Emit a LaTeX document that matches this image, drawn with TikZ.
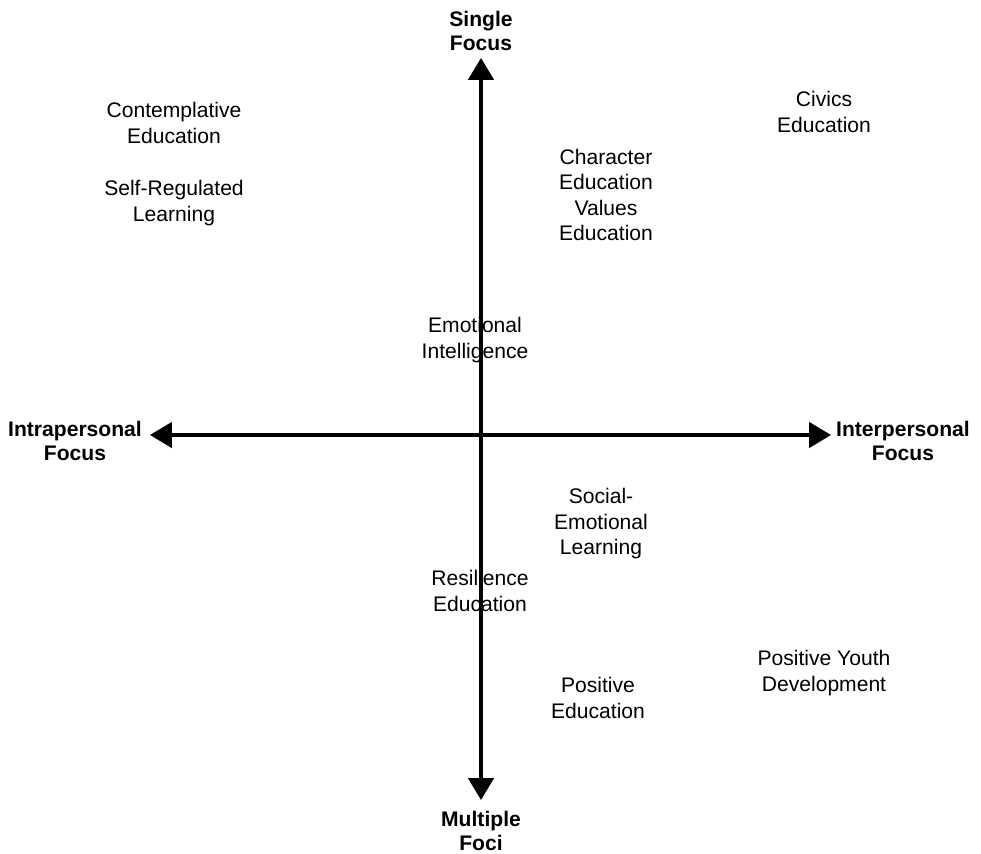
\documentclass[tikz,border=0pt]{standalone}
\usepackage{fontspec}
\setmainfont{Liberation Sans}
\usetikzlibrary{arrows.meta,positioning}
\tikzset{
    % Achsen mit dreieckigen Spitzen an beiden Enden
    axisarrow/.style={
        line width=1.8pt,
        black,
        {Triangle[length=12.5pt, width=14.5pt]}-{Triangle[length=12.5pt, width=14.5pt]}
    },
    axislabel/.style={
        font=\bfseries\fontsize{12}{13.2}\selectfont,
        align=center,
        inner sep=0pt
    },
    approach/.style={
        font=\fontsize{12}{14.5}\selectfont,
        align=center,
        inner sep=0pt
    }
}

\begin{document}
\begin{tikzpicture}[x=0.02cm,y=-0.02cm]
   \useasboundingbox (0,0) rectangle (981,854);
   \path
    (481,58)  coordinate (top)
    (481,800) coordinate (bottom)
    (150,435) coordinate (left)
    (831,435) coordinate (right);

    % Achsen
    \draw[axisarrow] (bottom) -- (top);
    \draw[axisarrow] (left) -- (right);

    % Beschriftung der Achsen
    \node[axislabel] (single) at (481,31) {Single\\Focus};
    \node[axislabel] (multiple) at (481,831) {Multiple\\Foci};
    \node[axislabel] (intra) at (75,441) {Intrapersonal\\Focus};
    \node[axislabel] (inter) at (903,441) {Interpersonal\\Focus};

    % Ansaetze in den Quadranten
    \node[approach] (contemplative) at (174,123) {Contemplative\\Education};
    \node[approach] (selfreg) at (174,203) {Self-Regulated\\Learning};
    \node[approach] (civics) at (824,112) {Civics\\Education};
    \node[approach] (character) at (606,195) {Character\\Education\\Values\\Education};
    \node[approach] (emotional) at (475,340) {Emotional\\Intelligence};
    \node[approach] (sel) at (601,524) {Social-\\Emotional\\Learning};
    \node[approach] (resilience) at (480,591) {Resilience\\Education};
    \node[approach] (positive) at (598,698) {Positive\\Education};
    \node[approach] (youth) at (824,673) {Positive Youth\\Development};

\end{tikzpicture}
\end{document}
